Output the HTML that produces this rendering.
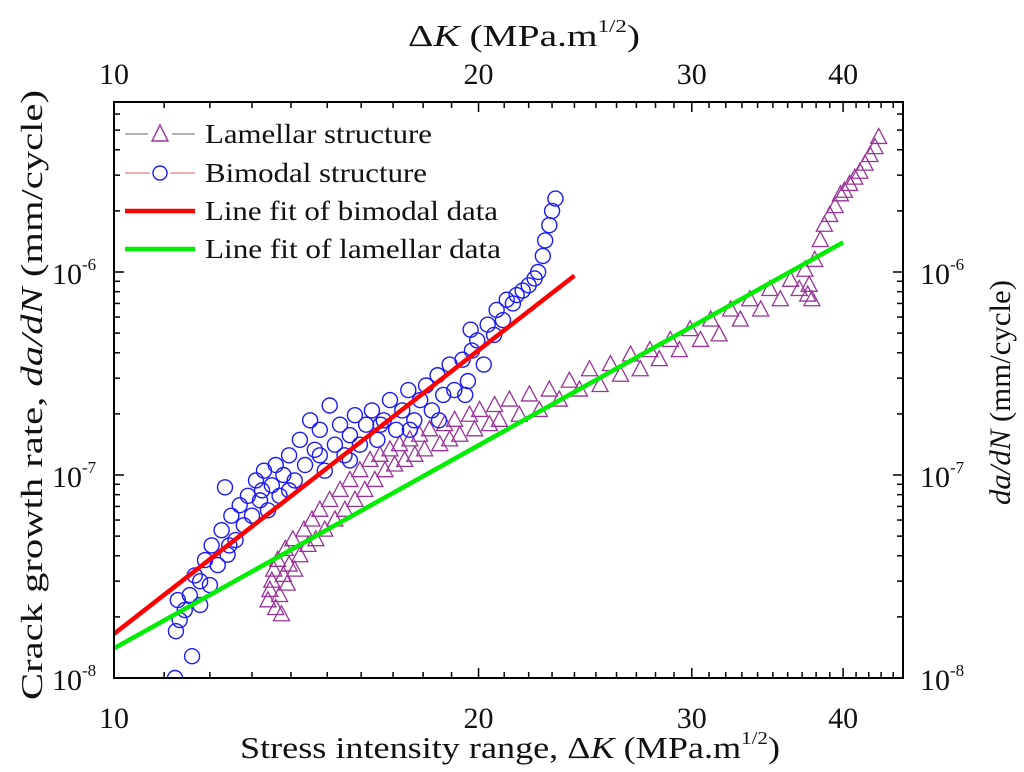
<!DOCTYPE html>
<html><head><meta charset="utf-8"><style>
html,body{margin:0;padding:0;background:#fff;width:1024px;height:772px;overflow:hidden}
svg{display:block;font-family:"Liberation Serif",serif}
</style></head><body>
<svg id="chart" width="1024" height="772" viewBox="0 0 1024 772" xmlns="http://www.w3.org/2000/svg">
<g id="marks"></g>
<g id="axes"></g>
<g id="legend">
  <g>
    <line x1="125" y1="134" x2="195" y2="134" stroke="#888" stroke-width="1.2"/>
    <rect x="148" y="122" width="24" height="22" fill="#fff"/>
    <polygon points="160,125 152,141 168,141" fill="none" stroke="#993399" stroke-width="1.4"/>
    <text x="205" y="143" font-size="27" textLength="227" lengthAdjust="spacingAndGlyphs" fill="#111">Lamellar structure</text>
  </g>
  <g>
    <line x1="125" y1="173" x2="195" y2="173" stroke="#f08080" stroke-width="1.2"/>
    <rect x="150" y="162" width="20" height="22" fill="#fff"/>
    <circle cx="160" cy="173" r="7" fill="none" stroke="#1a1aff" stroke-width="1.4"/>
    <text x="205" y="182" font-size="27" textLength="222" lengthAdjust="spacingAndGlyphs" fill="#111">Bimodal structure</text>
  </g>
  <g>
    <line x1="125" y1="211" x2="195" y2="211" stroke="#ff0000" stroke-width="4.5"/>
    <text x="205" y="220" font-size="27" textLength="293" lengthAdjust="spacingAndGlyphs" fill="#111">Line fit of bimodal data</text>
  </g>
  <g>
    <line x1="125" y1="249" x2="195" y2="249" stroke="#00ee00" stroke-width="4.5"/>
    <text x="205" y="258" font-size="27" textLength="296" lengthAdjust="spacingAndGlyphs" fill="#111">Line fit of lamellar data</text>
  </g>
</g>
<text x="240" y="758" font-size="31" textLength="540" lengthAdjust="spacingAndGlyphs" fill="#111">Stress intensity range, Δ<tspan font-style="italic">K</tspan> (MPa.m<tspan dy="-14" font-size="18">1/2</tspan><tspan dy="14">)</tspan></text>
<text x="408" y="46" font-size="31" textLength="232" lengthAdjust="spacingAndGlyphs" fill="#111">Δ<tspan font-style="italic">K</tspan> (MPa.m<tspan dy="-14" font-size="18">1/2</tspan><tspan dy="14">)</tspan></text>
<text transform="translate(42,700) rotate(-90)" font-size="31" textLength="610" lengthAdjust="spacingAndGlyphs" fill="#111">Crack growth rate, <tspan font-style="italic">da/dN</tspan> (mm/cycle)</text>
<text transform="translate(1010,505) rotate(-90)" font-size="30" textLength="225" lengthAdjust="spacingAndGlyphs" fill="#111"><tspan font-style="italic">da/dN</tspan> (mm/cycle)</text>
</svg>
<script>
const bimodalK=[11.23,11.6,11.25,11.33,11.44,11.29,11.55,11.66,11.78,11.89,12.0,12.04,12.18,12.27,12.35,12.41,12.5,12.6,12.7,12.8,12.9,13.0,13.1,13.2,13.3,13.4,13.5,13.6,13.7,13.8,13.95,14.1,14.24,14.38,14.52,14.65,14.79,14.93,15.07,15.22,15.37,15.5,15.66,15.81,15.96,16.15,16.33,16.5,16.7,16.9,17.1,17.3,17.5,17.7,17.9,18.1,18.3,18.5,18.7,18.93,19.1,19.4,19.6,19.75,19.95,20.2,20.35,20.6,20.7,20.95,21.1,21.35,21.5,21.75,22.0,22.25,22.4,22.6,22.7,22.88,23.0,23.15,11.78,12.45,13.25,13.95,14.79,15.66,16.6,17.55,18.55,19.5,19.7];
const bimodalV=[1.0e-8,1.28e-8,1.7e-8,1.93e-8,2.16e-8,2.42e-8,2.56e-8,3.2e-8,2.29e-8,3.81e-8,2.87e-8,4.5e-8,3.6e-8,5.35e-8,8.7e-8,4.05e-8,6.3e-8,4.78e-8,7.1e-8,5.65e-8,7.9e-8,6.3e-8,9.4e-8,7.5e-8,1.05e-7,6.7e-8,8.9e-8,1.12e-7,7.9e-8,1.0e-7,1.25e-7,9.4e-8,1.49e-7,1.12e-7,1.86e-7,1.33e-7,1.67e-7,1.05e-7,2.2e-7,1.41e-7,1.77e-7,1.25e-7,1.57e-7,1.97e-7,1.41e-7,1.77e-7,2.08e-7,1.49e-7,1.86e-7,2.34e-7,1.67e-7,2.08e-7,2.62e-7,1.86e-7,2.34e-7,2.76e-7,2.08e-7,3.1e-7,2.48e-7,3.5e-7,2.62e-7,3.7e-7,2.9e-7,4.1e-7,4.6e-7,3.5e-7,5.5e-7,4.9e-7,6.5e-7,5.8e-7,7.3e-7,7.0e-7,7.7e-7,8.1e-7,8.6e-7,9.3e-7,1.0e-6,1.2e-6,1.43e-6,1.7e-6,2.0e-6,2.3e-6,3.0e-8,4.5e-8,8.4e-8,8.4e-8,1.25e-7,1.18e-7,1.77e-7,1.67e-7,1.86e-7,2.48e-7,5.2e-7];
const lamK=[13.4,13.45,13.5,13.55,13.6,13.65,13.7,13.75,13.8,13.85,13.9,13.95,14.05,14.1,14.24,14.35,14.46,14.57,14.68,14.79,14.93,15.07,15.22,15.37,15.51,15.66,15.81,15.96,16.11,16.27,16.42,16.58,16.74,16.9,17.05,17.21,17.38,17.55,17.72,17.88,18.05,18.22,18.58,18.75,18.93,19.11,19.3,19.66,19.85,20.04,20.42,20.62,20.81,21.21,21.61,22.03,22.45,22.88,23.32,23.77,24.23,24.7,25.2,25.7,26.2,26.7,27.2,27.7,28.2,28.8,29.3,29.9,30.5,31.1,31.6,32.3,32.9,33.5,34.2,34.8,35.5,36.2,36.8,37.2,37.5,37.7,37.4,37.9,38.3,38.6,39.0,39.4,39.8,40.1,40.5,40.9,41.3,41.7,42.1,42.5,42.8];
const lamV=[2.4e-8,2.7e-8,3.0e-8,3.4e-8,2.2e-8,3.8e-8,2.55e-8,2.05e-8,3.2e-8,4.3e-8,2.9e-8,3.6e-8,4.8e-8,3.4e-8,4.0e-8,5.35e-8,4.5e-8,6.0e-8,4.8e-8,6.7e-8,5.35e-8,7.5e-8,6.0e-8,8.4e-8,6.7e-8,9.4e-8,7.5e-8,1.05e-7,8.4e-8,1.18e-7,9.4e-8,1.25e-7,1.05e-7,1.33e-7,1.12e-7,1.41e-7,1.18e-7,1.49e-7,1.25e-7,1.57e-7,1.33e-7,1.67e-7,1.41e-7,1.77e-7,1.49e-7,1.86e-7,1.57e-7,1.97e-7,1.67e-7,2.08e-7,1.77e-7,2.2e-7,1.86e-7,2.34e-7,1.97e-7,2.48e-7,2.08e-7,2.62e-7,2.34e-7,2.9e-7,2.62e-7,3.3e-7,2.76e-7,3.5e-7,3.1e-7,3.9e-7,3.3e-7,4.1e-7,3.7e-7,4.6e-7,4.1e-7,5.2e-7,4.6e-7,5.8e-7,4.9e-7,6.5e-7,5.8e-7,7.3e-7,6.5e-7,8.2e-7,7.3e-7,9.1e-7,8.2e-7,1.02e-6,8.6e-7,7.3e-7,7.7e-7,1.14e-6,1.43e-6,1.7e-6,1.9e-6,2.1e-6,2.4e-6,2.5e-6,2.7e-6,2.9e-6,3.1e-6,3.4e-6,3.75e-6,4.1e-6,4.6e-6];
const fitBimodalK=[10,24];
const fitBimodalV=[1.65e-8,9.6e-7];
const fitLamK=[10,40];
const fitLamV=[1.4e-8,1.4e-6];
const xTicks=[10,20,30,40];
const yTickExp=[-8,-7,-6];

const L=114,R=903,T=102,B=678;
const xs=k=>L+1211*Math.log10(k/10);
const ys=v=>B-203*(Math.log10(v)+8);
const NS="http://www.w3.org/2000/svg";
const marks=document.getElementById('marks');
const axes=document.getElementById('axes');
function mk(tag,attrs,parent){const e=document.createElementNS(NS,tag);for(const a in attrs)e.setAttribute(a,attrs[a]);parent.appendChild(e);return e;}

const clip=mk('clipPath',{id:'pc'},marks);mk('rect',{x:L,y:T,width:R-L,height:B-T},clip);
const g=mk('g',{'clip-path':'url(#pc)'},marks);

for(let i=0;i<lamK.length;i++){
  const x=xs(lamK[i]),y=ys(lamV[i]);
  const t=mk('polygon',{points:`${x},${y-9} ${x-8},${y+6} ${x+8},${y+6}`,fill:'none',stroke:'#993399','stroke-width':1.3},g);
  
  
}
for(let i=0;i<bimodalK.length;i++){
  const c=mk('circle',{cx:xs(bimodalK[i]),cy:ys(bimodalV[i]),r:7.5,fill:'none',stroke:'#1a1aff','stroke-width':1.4},g);
  
  
}
const fb=mk('line',{x1:xs(fitBimodalK[0]),y1:ys(fitBimodalV[0]),x2:xs(fitBimodalK[1]),y2:ys(fitBimodalV[1]),stroke:'#ff0000','stroke-width':4.5},g);


const fl=mk('line',{x1:xs(fitLamK[0]),y1:ys(fitLamV[0]),x2:xs(fitLamK[1]),y2:ys(fitLamV[1]),stroke:'#00ee00','stroke-width':4.5},g);



const frame=mk('rect',{x:L,y:T,width:R-L,height:B-T,fill:'none',stroke:'#000','stroke-width':2},axes);


for(let k=10;k<=44;k++){
  const x=xs(k),maj=k%10===0,len=maj?10:6;
  mk('line',{x1:x,y1:B,x2:x,y2:B-len,stroke:'#000','stroke-width':1.5},axes);
  mk('line',{x1:x,y1:T,x2:x,y2:T+len,stroke:'#000','stroke-width':1.5},axes);
}
for(const k of xTicks){
  const b=mk('text',{x:xs(k),y:728,'font-size':30,'text-anchor':'middle',fill:'#111'},axes);b.textContent=k;
  
  
  const t=mk('text',{x:xs(k),y:84,'font-size':30,'text-anchor':'middle',fill:'#111'},axes);t.textContent=k;
  
  
}
for(let e=-8;e<=-6;e++){for(let m=1;m<=9;m++){
  const y=ys(m*Math.pow(10,e));if(y<T)continue;const len=m===1?10:6;
  mk('line',{x1:L,y1:y,x2:L+len,y2:y,stroke:'#000','stroke-width':1.5},axes);
  mk('line',{x1:R,y1:y,x2:R-len,y2:y,stroke:'#000','stroke-width':1.5},axes);
}}
for(const e of yTickExp){
  const y=ys(Math.pow(10,e));
  const l=mk('text',{x:52,y:y+12,'font-size':30,fill:'#111'},axes);
  l.textContent='10';
  const ls=mk('tspan',{dy:-14,'font-size':17},l);ls.textContent=e;
  
  
  const r=mk('text',{x:920,y:y+12,'font-size':30,fill:'#111'},axes);
  r.textContent='10';
  const rs=mk('tspan',{dy:-14,'font-size':17},r);rs.textContent=e;
  
  
}
</script>
</body></html>
